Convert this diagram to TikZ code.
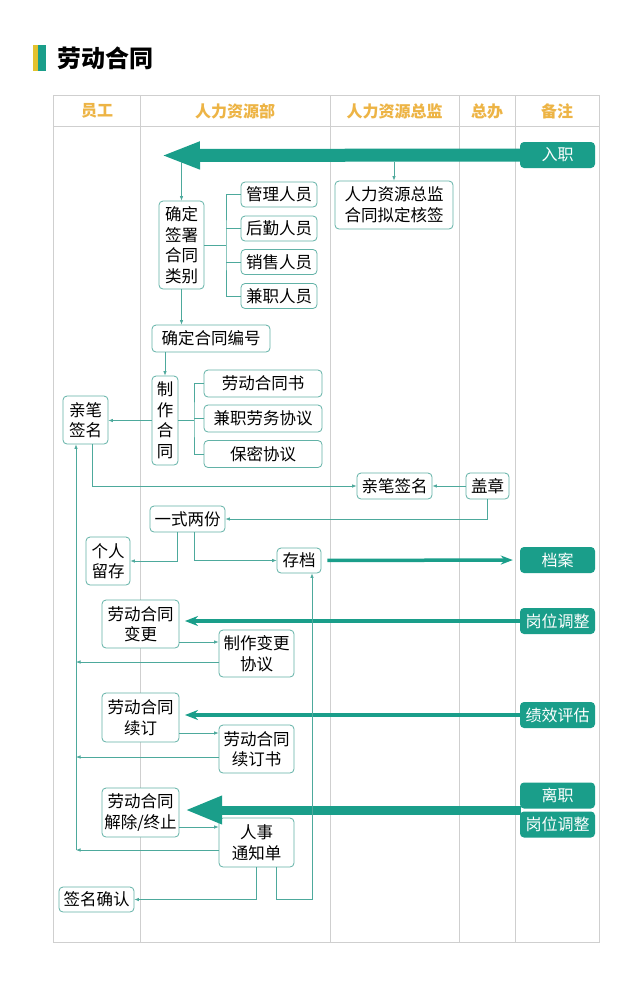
\documentclass[tikz,border=0pt]{standalone}
\usepackage{fontspec}
\setmainfont{Noto Sans CJK SC}
\usetikzlibrary{arrows.meta}
\definecolor{tealc}{HTML}{1A9E8A}
\definecolor{linec}{HTML}{4DA99C}
\definecolor{boxc}{HTML}{62B2A7}
\definecolor{gridc}{HTML}{CFCFCF}
\definecolor{headc}{HTML}{EDB445}
\definecolor{barY}{HTML}{E3C22E}

\begin{document}
\begin{tikzpicture}[x=1pt, y=-1pt,
    box/.style 2 args={draw=boxc, line width=0.8pt, rounded corners=4pt, fill=white, align=center,
        inner sep=1pt, minimum width=#1, minimum height=#2, font=\fontsize{16.5}{20.5}\selectfont},
    notebox/.style={fill=tealc, rounded corners=4pt, text=white, minimum width=75pt,
        minimum height=26pt, inner sep=0pt, font=\fontsize{16}{20}\selectfont},
    colhead/.style={text=headc, font=\fontsize{16}{18}\selectfont\bfseries},
    flow/.style={draw=linec, line width=0.7pt},
    arr/.style={flow, -{Latex[length=4.5pt,width=3.5pt]}},
    tabline/.style={draw=gridc, line width=0.8pt}
  ]
    \useasboundingbox (0,0) rectangle (640,1005);
    \fill[white] (0,0) rectangle (640,1005);

    % 标题
    \fill[barY] (33,45) rectangle (38,71);
    \fill[tealc] (38,45) rectangle (46,71);
    \node[anchor=west, inner sep=0pt, font=\fontsize{24}{28}\selectfont\bfseries] (title) at (57,58) {劳动合同};

    % 表格
    \draw[tabline] (53,95) rectangle (599,942);
    \draw[tabline] (53,126) -- (599,126);
    \foreach \x in {140,330,459,515}
        \draw[tabline] (\x,95) -- (\x,942);

    \node[colhead] (h1) at (97,111) {员工};
    \node[colhead] (h2) at (235,111) {人力资源部};
    \node[colhead] (h3) at (394.5,111) {人力资源总监};
    \node[colhead] (h4) at (487,111) {总办};
    \node[colhead] (h5) at (557,111) {备注};

    % 备注栏
    \node[notebox] (ruzhi) at (557.5,155) {入职};
    \node[notebox] (dangan) at (557.5,560) {档案};
    \node[notebox] (gangwei) at (557.5,621) {岗位调整};
    \node[notebox] (jixiao) at (557.5,715) {绩效评估};
    \node[notebox] (lizhi) at (557.5,795.5) {离职};
    \node[notebox] (gangwei2) at (557.5,824.5) {岗位调整};

    % 入职
    \node[box={118pt}{48pt}] (zongjian) at (394,205) {人力资源总监\\合同拟定核签};
    \node[box={45pt}{88pt}] (leibie) at (181.5,245) {确定\\签署\\合同\\类别};
    \node[box={76pt}{25pt}] (guanli) at (279,194.5) {管理人员};
    \node[box={76pt}{25pt}] (houqin) at (279,228.5) {后勤人员};
    \node[box={76pt}{25pt}] (xiaoshou) at (279,262) {销售人员};
    \node[box={76pt}{25pt}] (jianzhi) at (279,296) {兼职人员};
    \node[box={118pt}{27pt}] (bianhao) at (211,338.5) {确定合同编号};
    \node[box={26pt}{89pt}] (zhizuo) at (165,420.5) {制\\作\\合\\同};
    \node[box={118pt}{27pt}] (hetongshu) at (263,383.5) {劳动合同书};
    \node[box={118pt}{27pt}] (laowu) at (263,418.5) {兼职劳务协议};
    \node[box={118pt}{27pt}] (baomi) at (263,454) {保密协议};
    \node[box={45pt}{48pt}] (qianming) at (85.5,420) {亲笔\\签名};
    \node[box={75pt}{26pt}] (qianming2) at (394.5,486) {亲笔签名};
    \node[box={43pt}{26pt}] (gaizhang) at (487.5,486) {盖章};
    \node[box={75pt}{26pt}] (yishi) at (187.5,519) {一式两份};
    \node[box={44pt}{48pt}] (liucun) at (108,561) {个人\\留存};
    \node[box={44pt}{25pt}] (cundang) at (299,560.5) {存档};

    % 变更 续订 解除
    \node[box={77pt}{48pt}] (biangeng) at (140.5,624) {劳动合同\\变更};
    \node[box={75pt}{47pt}] (biangengxy) at (256.5,653.5) {制作变更\\协议};
    \node[box={77pt}{49pt}] (xuding) at (140.5,717.5) {劳动合同\\续订};
    \node[box={75pt}{48pt}] (xudingshu) at (256.5,749) {劳动合同\\续订书};
    \node[box={77pt}{49pt}] (jiechu) at (140.5,812.5) {劳动合同\\解除/终止};
    \node[box={75pt}{49pt}] (tongzhi) at (256.5,842.5) {人事\\通知单};
    \node[box={75pt}{25pt}] (queren) at (96.5,899.5) {签名确认};

    % 粗箭头
    \coordinate (rz) at (161,155.5);
    \coordinate (gw) at (185,621);
    \coordinate (jx) at (185,715);
    \coordinate (lz0) at (521,810);
    \coordinate (lz) at (185,810);
    \draw[tealc, line width=13pt, -{Triangle[length=39pt,width=25pt]}] (ruzhi.west) -- (rz);
    \draw[tealc, line width=4.5pt, -{Stealth[length=13pt,width=10pt]}] (gangwei.west) -- (gw);
    \draw[tealc, line width=4.5pt, -{Stealth[length=13pt,width=10pt]}] (jixiao.west) -- (jx);
    \draw[tealc, line width=9pt, -{Triangle[length=37pt,width=26pt]}] (lz0) -- (lz);
    \draw[tealc, line width=3.5pt, -{Stealth[length=12pt,width=9pt]}, shorten <=6pt, shorten >=7pt]
        (cundang.east) -- (dangan.west);

    % 连线
    \coordinate (t1) at (394,162);
    \coordinate (t2) at (181.5,162);
    \draw[arr] (t1) -- (zongjian.north);
    \draw[arr] (t2) -- (leibie.north);

    \coordinate (fz1) at (226,245);
    \draw[flow] (leibie.east) -- (fz1);
    \draw[flow] (guanli.west) -| (fz1) |- (jianzhi.west);
    \draw[flow] (houqin.west) -- (houqin.west -| fz1);
    \draw[flow] (xiaoshou.west) -- (xiaoshou.west -| fz1);

    \draw[arr] (leibie.south) -- (leibie.south |- bianhao.north);
    \draw[arr] (bianhao.south -| zhizuo.north) -- (zhizuo.north);

    \coordinate (fz2) at (194,420.5);
    \draw[flow] (zhizuo.east) -- (fz2);
    \draw[flow] (hetongshu.west) -| (fz2) |- (baomi.west);
    \draw[flow] (laowu.west) -- (laowu.west -| fz2);

    \draw[arr] (zhizuo.west) -- (zhizuo.west -| qianming.east);
    \draw[arr] ([xshift=6.5pt]qianming.south) |- (qianming2.west);
    \draw[arr] (gaizhang.west) -- (qianming2.east);
    \draw[arr] (gaizhang.south) |- (yishi.east);
    \draw[arr] ([xshift=-10.5pt]yishi.south) |- (liucun.east);
    \draw[arr] ([xshift=6.5pt]yishi.south) |- (cundang.west);

    % 返回员工
    \coordinate (zuo) at (76,850);
    \draw[arr] (zuo) -- (zuo |- qianming.south);
    \draw[arr] ([yshift=-18pt]biangeng.east) -- ([yshift=-18pt]biangeng.east -| biangengxy.west);
    \draw[arr] ([yshift=-8.5pt]biangengxy.west) -- ([yshift=-8.5pt]biangengxy.west -| zuo);
    \draw[arr] ([yshift=-15.5pt]xuding.east) -- ([yshift=-15.5pt]xuding.east -| xudingshu.west);
    \draw[arr] ([yshift=-8pt]xudingshu.west) -- ([yshift=-8pt]xudingshu.west -| zuo);
    \draw[arr] ([yshift=-14.5pt]jiechu.east) -- ([yshift=-14.5pt]jiechu.east -| tongzhi.west);
    \draw[arr] ([yshift=-7.5pt]tongzhi.west) -- (zuo);
    \draw[arr] (tongzhi.south) |- (queren.east);
    \draw[arr] ([xshift=19.5pt]tongzhi.south) -- ++(0,32) -| ([xshift=13pt]cundang.south);
\end{tikzpicture}
\end{document}
